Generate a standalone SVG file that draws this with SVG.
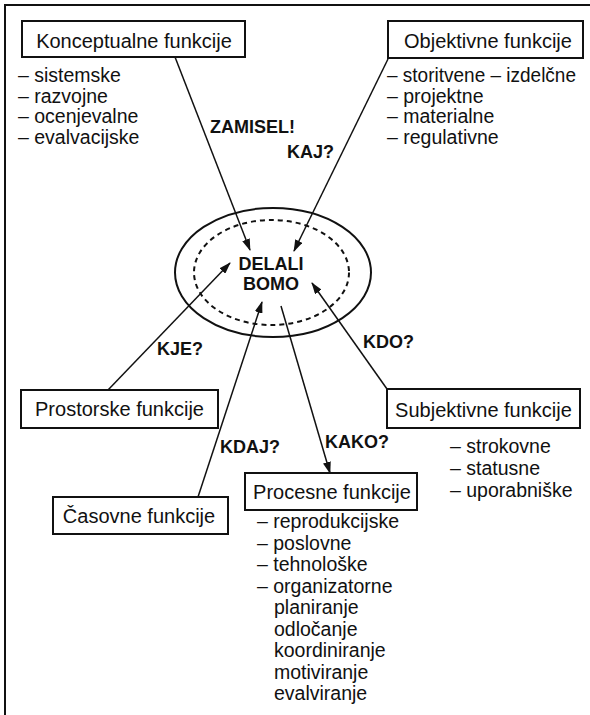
<svg xmlns="http://www.w3.org/2000/svg" width="590" height="715" viewBox="0 0 590 715">
<defs>
<style>
.t{font-family:"Liberation Sans",Arial,Helvetica,sans-serif;font-size:20px;fill:#111}
.l{font-size:19.5px}
.b{font-family:"Liberation Sans",Arial,Helvetica,sans-serif;font-size:18px;font-weight:bold;fill:#111}
.m{text-anchor:middle}
.box{fill:#fff;stroke:#111;stroke-width:2}
.c{stroke:#111;stroke-width:1.5;fill:none;marker-end:url(#ah)}
</style>
<marker id="ah" viewBox="0 0 12 8" refX="11" refY="4" markerWidth="12" markerHeight="8" markerUnits="userSpaceOnUse" orient="auto">
<path d="M0,0 L12,4 L0,8 Z" fill="#111"/>
</marker>
</defs>
<rect width="590" height="715" fill="#fff"/>
<path d="M5,715 V5 H590" fill="none" stroke="#111" stroke-width="2"/>

<g id="center">
<ellipse cx="273" cy="272.5" rx="98" ry="64.5" fill="none" stroke="#111" stroke-width="2"/>
<ellipse cx="271.5" cy="272.5" rx="77.5" ry="52.5" fill="none" stroke="#111" stroke-width="2" stroke-dasharray="5,4"/>
<text class="b m" x="271" y="270">DELALI</text>
<text class="b m" x="271" y="290">BOMO</text>
</g>

<g id="connectors">
<line class="c" x1="175" y1="57" x2="250" y2="250"/>
<line class="c" x1="388" y1="59" x2="294" y2="251"/>
<line class="c" x1="108" y1="390" x2="230" y2="263"/>
<line class="c" x1="198" y1="497" x2="262" y2="302"/>
<line class="c" x1="281" y1="306" x2="330" y2="473"/>
<line class="c" x1="387" y1="389" x2="312" y2="283"/>
<text class="b" x="210" y="133">ZAMISEL!</text>
<text class="b" x="287" y="158">KAJ?</text>
<text class="b" x="157" y="355">KJE?</text>
<text class="b" x="363" y="348">KDO?</text>
<text class="b" x="220" y="453">KDAJ?</text>
<text class="b" x="325" y="448">KAKO?</text>
</g>

<g id="konceptualne">
<rect class="box" x="22" y="21" width="223" height="36"/>
<text class="t m" x="134" y="48">Konceptualne funkcije</text>
<text class="t l" x="18" y="82">– sistemske</text>
<text class="t l" x="18" y="102.5">– razvojne</text>
<text class="t l" x="18" y="123">– ocenjevalne</text>
<text class="t l" x="18" y="143.5">– evalvacijske</text>
</g>

<g id="objektivne">
<rect class="box" x="388" y="21" width="195" height="37"/>
<text class="t m" x="488" y="48">Objektivne funkcije</text>
<text class="t l" x="387" y="82" textLength="189" lengthAdjust="spacingAndGlyphs">– storitvene – izdelčne</text>
<text class="t l" x="387" y="102.5">– projektne</text>
<text class="t l" x="387" y="123">– materialne</text>
<text class="t l" x="387" y="143.5">– regulativne</text>
</g>

<g id="prostorske">
<rect class="box" x="21" y="390" width="197" height="38"/>
<text class="t m" x="119.5" y="416">Prostorske funkcije</text>
</g>

<g id="subjektivne">
<rect class="box" x="387" y="389" width="193" height="39"/>
<text class="t m" x="483.5" y="417">Subjektivne funkcije</text>
<text class="t l" x="450" y="453">– strokovne</text>
<text class="t l" x="450" y="475">– statusne</text>
<text class="t l" x="450" y="497">– uporabniške</text>
</g>

<g id="casovne">
<rect class="box" x="53" y="497" width="175" height="37"/>
<text class="t m" x="139" y="523">Časovne funkcije</text>
</g>

<g id="procesne">
<rect class="box" x="245" y="473" width="172" height="37"/>
<text class="t m" x="332" y="499">Procesne funkcije</text>
<text class="t l" x="257" y="528">– reprodukcijske</text>
<text class="t l" x="257" y="549.5">– poslovne</text>
<text class="t l" x="257" y="571">– tehnološke</text>
<text class="t l" x="257" y="592.5">– organizatorne</text>
<text class="t l" x="274" y="614">planiranje</text>
<text class="t l" x="274" y="635.5">odločanje</text>
<text class="t l" x="274" y="657">koordiniranje</text>
<text class="t l" x="274" y="678.5">motiviranje</text>
<text class="t l" x="274" y="700">evalviranje</text>
</g>
</svg>
